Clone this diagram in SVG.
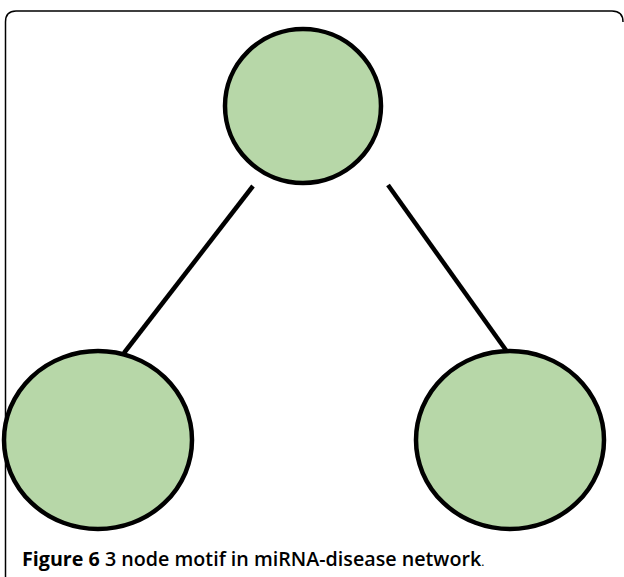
<svg xmlns="http://www.w3.org/2000/svg" width="624" height="577" viewBox="0 0 624 577">
<style>
.node{fill:#b7d7a8;stroke:#000;stroke-width:4.5}
.edge{stroke:#000;stroke-width:4.5;fill:none}
.cap{font-family:"Open Sans","Liberation Sans",sans-serif;font-size:19.7px;fill:#000;font-weight:600}
</style>
<rect width="624" height="577" fill="#fff"/>
<path d="M5.5,590 V22 Q5.5,11 16,11 H612 Q623,11 623,22" fill="none" stroke="#000" stroke-width="1.5"/>
<g id="connectors">
<line class="edge" x1="253" y1="186" x2="124" y2="353"/>
<line class="edge" x1="388" y1="185" x2="508" y2="353"/>
</g>
<g id="n1"><ellipse class="node" cx="303" cy="106" rx="78" ry="77"/></g>
<g id="n2"><ellipse class="node" cx="98" cy="440" rx="94" ry="89"/></g>
<g id="n3"><ellipse class="node" cx="510" cy="440" rx="94" ry="89"/></g>
<g id="caption"><text class="cap" x="22" y="566"><tspan font-weight="bold">Figure 6</tspan> 3 node motif in miRNA-disease network<tspan font-size="12" font-weight="normal">.</tspan></text></g>
</svg>
